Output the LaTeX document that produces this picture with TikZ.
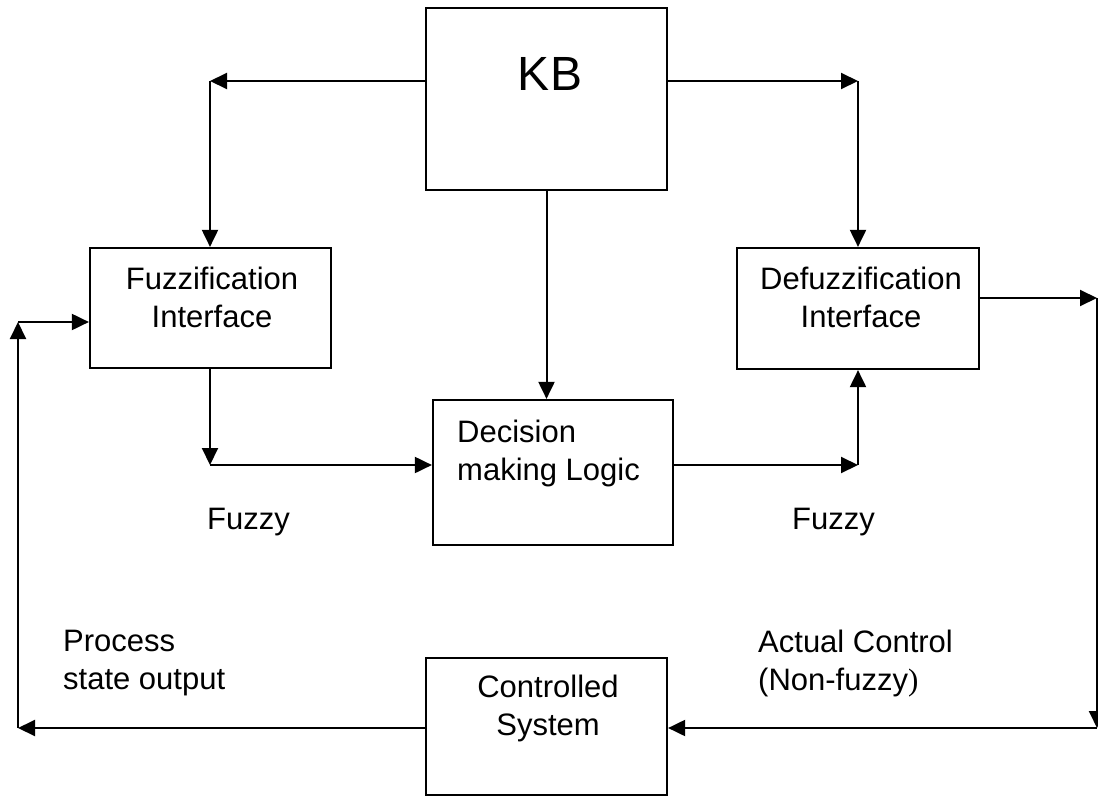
\documentclass[tikz,border=0pt]{standalone}
\usepackage{fontspec}
\setmainfont{Liberation Sans}
\newfontfamily\parenfont{Liberation Serif}
\usetikzlibrary{arrows.meta}

\begin{document}
\begin{tikzpicture}[
    x=1pt, y=-1pt,
  box/.style={draw, line width=2.2pt, minimum width=241pt, inner sep=0pt},
  txt/.style={inner sep=0pt, font=\fontsize{31}{38}\selectfont},
  link/.style={line width=2pt, -{Triangle[length=17pt, width=16pt]}}
]
\useasboundingbox (0,0) rectangle (1098,803);

% --- the five blocks ---
\node[box, minimum height=182pt] (kb) at (546.5,99) {};
\node[box, minimum height=120pt] (fuzz) at (210.5,308) {};
\node[box, minimum height=121pt, minimum width=242pt] (defuzz) at (858,308.5) {};
\node[box, minimum height=145pt, minimum width=240pt] (dec) at (553,472.5) {};
\node[box, minimum height=137pt] (ctrl) at (546.5,726.5) {};

% --- texts ---
\node[txt, font=\fontsize{48}{52}\selectfont, anchor=north] (kblab) at (550,57) {KB};
\node[txt, anchor=north, align=center] (fuzzlab) at (212,267) {Fuzzification\\Interface};
\node[txt, anchor=north, align=center] (defuzzlab) at (861,267) {Defuzzification\\Interface};
\node[txt, anchor=north west, align=left] (declab) at (457,420) {Decision\\making Logic};
\node[txt, anchor=north, align=center] (ctrllab) at (548,675) {Controlled\\System};
\node[txt, anchor=north west] (fuzzy1) at (207,508) {Fuzzy};
\node[txt, anchor=north west] (fuzzy2) at (792,508) {Fuzzy};
\node[txt, anchor=north west, align=left] (proclab) at (63,630) {Process\\state output};
\node[txt, anchor=north west, align=left] (actlab) at (758,630) {Actual Control\\(Non-fuzzy{\parenfont)}};

% --- corners ---
\coordinate (tl) at (210,81);
\coordinate (tr) at (858,81);
\coordinate (bl) at (210,465);
\coordinate (br) at (858,465);
\coordinate (or) at (1097,298);
\coordinate (lr) at (1097,728);
\coordinate (ll) at (18,728);
\coordinate (ul) at (18,322);

% --- connectors ---
\draw[link] (kb.west |- tl) -- (tl);
\draw[link] (tl) -- (tl |- fuzz.north);
\draw[link] (kb.east |- tr) -- (tr);
\draw[link] (tr) -- (tr |- defuzz.north);
\draw[link] (kb.south) -- (kb.south |- dec.north);
\draw[link] (bl |- fuzz.south) -- (bl);
\draw[link] (bl) -- (bl -| dec.west);
\draw[link] (br -| dec.east) -- (br);
\draw[link] (br) -- (br |- defuzz.south);
\draw[link] (or -| defuzz.east) -- (or);
\draw[link] (or) -- (lr);
\draw[link] (lr) -- (lr -| ctrl.east);
\draw[link] (ll -| ctrl.west) -- (ll);
\draw[link] (ll) -- (ul);
\draw[link] (ul) -- (ul -| fuzz.west);
\end{tikzpicture}
\end{document}
